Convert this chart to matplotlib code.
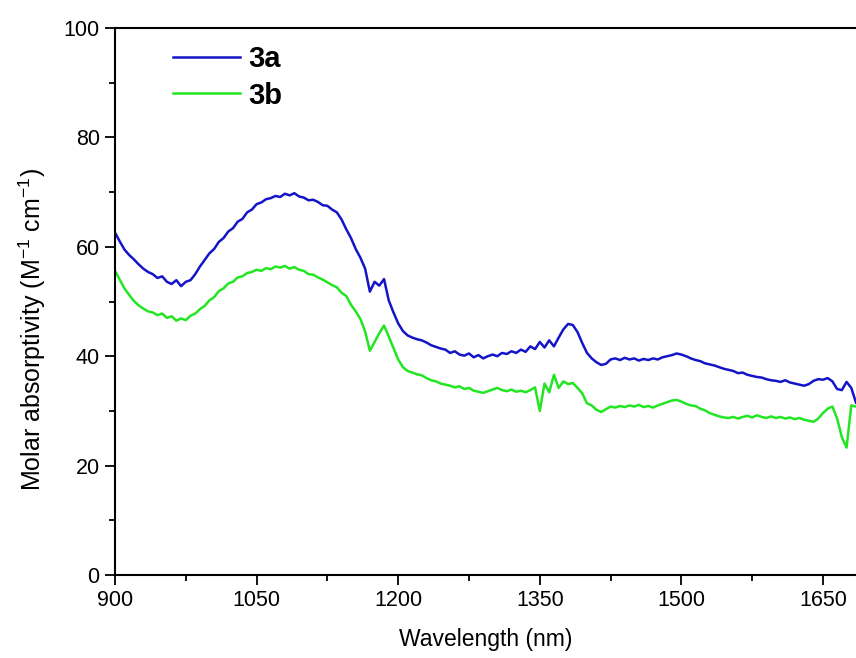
import numpy as np
import matplotlib
matplotlib.use('Agg')
import matplotlib.pyplot as plt
from matplotlib.ticker import MultipleLocator

plt.rcParams['font.family'] = ['Liberation Sans', 'DejaVu Sans']
plt.rcParams['mathtext.fontset'] = 'custom'
plt.rcParams['mathtext.rm'] = 'Liberation Sans'

# wavelength grid, 5 nm steps (900 .. 1685)
wavelength = np.arange(900, 1686, 5)

# 3a (blue)
abs_3a = [
    62.6, 61.0, 59.5, 58.5, 57.7, 56.8, 56.0, 55.4, 55.0, 54.3,
    54.6, 53.6, 53.2, 53.9, 52.8, 53.6, 53.9, 55.0, 56.4, 57.6,
    58.8, 59.6, 60.9, 61.6, 62.8, 63.4, 64.6, 65.1, 66.3, 66.8,
    67.8, 68.1, 68.7, 68.9, 69.3, 69.1, 69.7, 69.4, 69.8, 69.2,
    69.0, 68.5, 68.6, 68.2, 67.6, 67.5, 66.8, 66.3, 65.0, 63.2,
    61.6, 59.6, 58.0, 56.0, 51.8, 53.6, 52.9, 54.1, 50.2, 48.0,
    46.0, 44.6, 43.8, 43.4, 43.1, 42.9, 42.5, 42.0, 41.7, 41.4,
    41.2, 40.6, 40.9, 40.3, 40.1, 40.5, 39.8, 40.2, 39.6, 40.0,
    40.3, 40.0, 40.6, 40.4, 40.9, 40.6, 41.2, 40.8, 41.8, 41.3,
    42.6, 41.6, 42.9, 41.8, 43.4, 44.9, 45.9, 45.7, 44.4, 42.4,
    40.6, 39.6, 38.9, 38.4, 38.6, 39.4, 39.6, 39.3, 39.7, 39.4,
    39.6, 39.2, 39.5, 39.3, 39.6, 39.4, 39.8, 40.0, 40.2, 40.5,
    40.3, 40.0, 39.6, 39.3, 39.1, 38.7, 38.5, 38.3, 38.0, 37.7,
    37.5, 37.3, 36.9, 37.0, 36.6, 36.4, 36.2, 36.1, 35.8, 35.6,
    35.5, 35.3, 35.6, 35.2, 35.0, 34.8, 34.6, 34.9, 35.5, 35.8,
    35.7, 36.0, 35.4, 34.0, 33.8, 35.3, 34.2, 31.5,
]

# 3b (green)
abs_3b = [
    55.6, 54.0, 52.4, 51.2, 50.1, 49.3, 48.7, 48.2, 48.0, 47.5,
    47.8, 47.0, 47.3, 46.5, 46.9, 46.6, 47.4, 47.8, 48.6, 49.2,
    50.2, 50.8, 51.9, 52.4, 53.3, 53.6, 54.4, 54.6, 55.2, 55.4,
    55.8, 55.6, 56.1, 55.9, 56.4, 56.2, 56.5, 56.0, 56.3, 55.8,
    55.6, 55.0, 54.9, 54.4, 54.0, 53.5, 53.0, 52.6, 51.6, 51.0,
    49.4, 48.2, 46.8, 44.5, 41.0, 42.6, 44.2, 45.6, 43.6, 41.5,
    39.4, 38.0, 37.3, 37.0, 36.7, 36.5, 36.0, 35.6, 35.4, 35.0,
    34.8, 34.6, 34.3, 34.5, 34.0, 34.2, 33.7, 33.5, 33.3, 33.6,
    33.9, 34.2, 33.8, 33.6, 33.9, 33.5, 33.7, 33.4, 33.8, 34.3,
    30.0, 35.0, 33.4, 36.6, 34.2, 35.4, 34.9, 35.1, 34.2, 33.2,
    31.4, 31.0, 30.2, 29.8, 30.3, 30.8, 30.6, 30.9, 30.7, 31.0,
    30.8, 31.1, 30.7, 30.9, 30.6, 31.0, 31.3, 31.6, 31.9, 32.0,
    31.7, 31.3, 31.0, 30.9, 30.4, 30.1, 29.6, 29.3, 29.0, 28.8,
    28.7, 28.9, 28.6, 28.9, 29.1, 28.8, 29.2, 28.9, 28.7, 29.0,
    28.7, 28.9, 28.6, 28.8, 28.5, 28.7, 28.4, 28.2, 28.0, 28.6,
    29.6, 30.4, 30.8, 28.6, 25.2, 23.3, 31.0, 30.8,
]

fig = plt.figure(figsize=(8.56, 6.58), dpi=100)
ax = fig.add_axes([115 / 856, 1 - 575 / 658, 741 / 856, 547 / 658])

ax.plot(wavelength, abs_3a, color='#1414c8', lw=1.8, label='3a')
ax.plot(wavelength, abs_3b, color='#22e622', lw=1.8, label='3b')

ax.set_xlim(900, 1685)
ax.set_ylim(0, 100)
ax.xaxis.set_major_locator(MultipleLocator(150))
ax.xaxis.set_minor_locator(MultipleLocator(75))
ax.yaxis.set_major_locator(MultipleLocator(20))
ax.yaxis.set_minor_locator(MultipleLocator(10))

ax.spines['right'].set_visible(False)
for s in ['left', 'bottom', 'top']:
    ax.spines[s].set_linewidth(1.5)
ax.tick_params(which='major', direction='out', length=7, width=1.3,
               labelsize=15.5, pad=4, top=False, right=False)
ax.tick_params(which='minor', direction='out', length=4, width=1.3,
               top=False, right=False)

ax.set_xlabel('Wavelength (nm)', fontsize=16.5, labelpad=12)
ax.set_ylabel(r'Molar absorptivity (M$^{\mathregular{-1}}$ cm$^{\mathregular{-1}}$)',
              fontsize=18)
ax.yaxis.set_label_coords(-0.09, 0.448)

ax.legend(loc='upper left', bbox_to_anchor=(0.078, 0.969), frameon=False,
          prop={'size': 21, 'weight': 'bold'}, handlelength=2.3,
          handletextpad=0.3, labelspacing=0.3, borderpad=0, borderaxespad=0)

fig.savefig('out.png', dpi=100)
